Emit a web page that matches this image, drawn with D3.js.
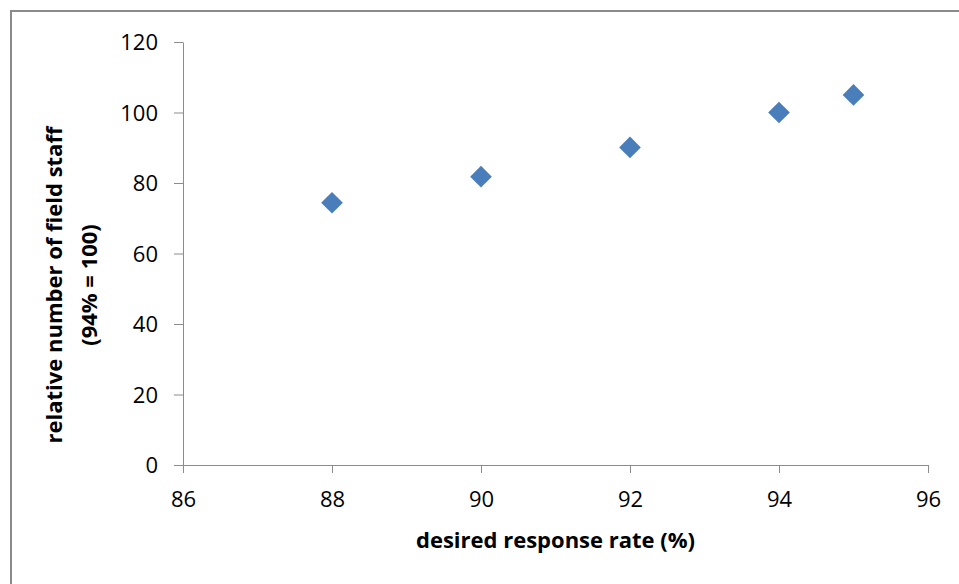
<!DOCTYPE html>
<html>
<head>
<meta charset="utf-8">
<script src="https://cdn.jsdelivr.net/npm/d3@7"></script>
<style>
  body { margin: 0; background: #fff; }
  text { font-family: "Open Sans", "Noto Sans", sans-serif; fill: #000; }
  .tick text { font-size: 22px; }
  .axisTitle { font-size: 22px; font-weight: bold; }
</style>
</head>
<body>
<div id="scatter"></div>
<script>
var svgWidth = 959;
var svgHeight = 584;

// data
var responseRate = [88, 90, 92, 94, 95];
var staffIndex = [74.4, 81.8, 90.1, 100, 105];
var xTicks = [86, 88, 90, 92, 94, 96];
var yTicks = [0, 20, 40, 60, 80, 100, 120];

var margin = { top: 42, right: 31, bottom: 119, left: 183 };
var chartWidth = svgWidth - margin.left - margin.right;
var chartHeight = svgHeight - margin.top - margin.bottom;

var svg = d3.select("#scatter")
  .append("svg")
  .attr("width", svgWidth)
  .attr("height", svgHeight);

// outer frame (only top and left edges visible)
svg.append("path")
  .attr("d", "M11,584 L11,11 L959,11")
  .attr("fill", "none")
  .attr("stroke", "#8a8a8a")
  .attr("stroke-width", 2);

var chart = svg.append("g")
  .attr("transform", "translate(" + margin.left + "," + margin.top + ")");

var xScale = d3.scaleLinear().domain([86, 96]).range([0, chartWidth]);
var yScale = d3.scaleLinear().domain([0, 120]).range([chartHeight, 0]);

var bottomAxis = d3.axisBottom(xScale).tickValues(xTicks).tickSize(8).tickSizeOuter(0).tickPadding(18);
var leftAxis = d3.axisLeft(yScale).tickValues(yTicks).tickSize(9).tickSizeOuter(0).tickPadding(16);

var xAxisG = chart.append("g")
  .attr("transform", `translate(0, ${chartHeight})`)
  .call(bottomAxis);

var yAxisG = chart.append("g")
  .call(leftAxis);

[xAxisG, yAxisG].forEach(function(g) {
  g.selectAll("path, line").attr("stroke", "#8c8c8c");
  g.selectAll("text").attr("fill", "#000");
});
yAxisG.selectAll("text").attr("dy", "0.36em");

var points = responseRate.map(function(r, i) { return { x: r, y: staffIndex[i] }; });

chart.selectAll(".marker")
  .data(points)
  .enter()
  .append("path")
  .attr("class", "marker")
  .attr("d", d3.symbol().type(d3.symbolSquare).size(235))
  .attr("transform", d => "translate(" + xScale(d.x) + "," + yScale(d.y) + ") rotate(45)")
  .attr("fill", "#4a7ebb");

chart.append("text")
  .attr("class", "axisTitle")
  .attr("text-anchor", "middle")
  .attr("x", chartWidth / 2)
  .attr("y", chartHeight + 83)
  .text("desired response rate (%)");

var yTitle = chart.append("text")
  .attr("class", "axisTitle")
  .attr("text-anchor", "middle")
  .attr("transform", "translate(" + (62 - margin.left) + "," + (285 - margin.top) + ") rotate(-90)");
yTitle.append("tspan").attr("x", 0).attr("y", 0).text("relative number of field staff");
yTitle.append("tspan").attr("x", 0).attr("y", 35).text("(94% = 100)");
</script>
</body>
</html>
